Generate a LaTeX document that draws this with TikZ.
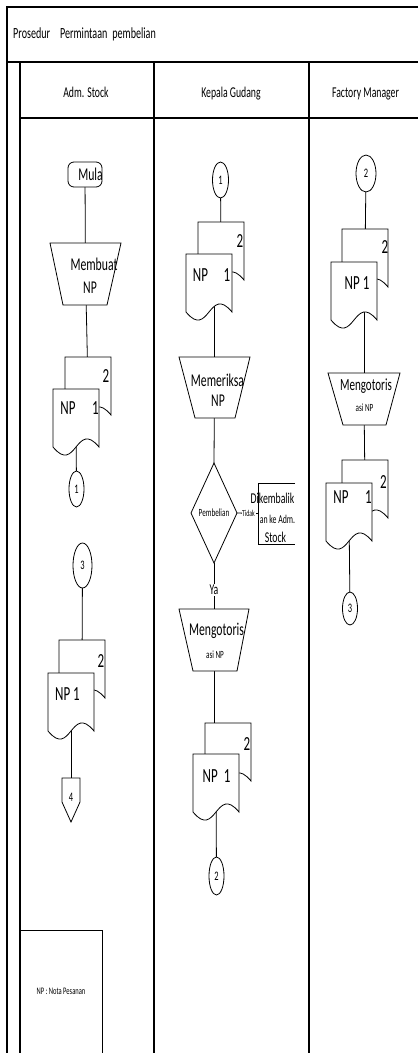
\documentclass[tikz,border=0pt]{standalone}
\usepackage{fontspec}
\setmainfont{Carlito}[FakeStretch=0.65]
\usetikzlibrary{shapes.geometric}
\pgfdeclarelayer{bg}
\pgfsetlayers{bg,main}
\newcommand\txtsize[1]{\fontsize{#1}{#1}\selectfont}
% document symbol with a wavy lower edge, drawn around an empty node
\newcommand\docshape[1]{%
  \filldraw[shapeline,fill=white] (#1.south west) -- (#1.north west) -- (#1.north east) -- (#1.south east)
    .. controls ([xshift=-23pt,yshift=28pt]#1.south east) and ([xshift=23pt,yshift=-28pt]#1.south west) .. (#1.south west) -- cycle;}
% manual operation symbol: node box is the top edge, bottom edge inset
\newcommand\trapshape[3]{%
  \filldraw[shapeline,fill=white] (#1.north west) -- (#1.north east) -- ([xshift=-#3pt]#1.south east) -- ([xshift=#2pt]#1.south west) -- cycle;}
\tikzset{
  frame/.style={line width=2.2pt},
  shapeline/.style={line width=0.8pt},
  conn/.style={line width=0.8pt},
  docbox/.style={minimum width=46pt,minimum height=58pt,inner sep=0pt,outer sep=0pt},
  box/.style={inner sep=0pt,outer sep=0pt},
  conbox/.style={ellipse,draw,shapeline,fill=white,inner sep=0pt,font=\txtsize{13}},
  txt/.style={inner sep=0pt},
  t20/.style={txt,font=\txtsize{20}},
  t18/.style={txt,font=\txtsize{18}},
  t15/.style={txt,font=\txtsize{15}},
  t12/.style={txt,font=\txtsize{12}},
  t11/.style={txt,font=\txtsize{11}},
}
\begin{document}
\begin{tikzpicture}[x=1pt,y=-1pt]
\useasboundingbox (0,0) rectangle (418,1053);

% table frame with swimlanes
\draw[frame] (418,7) -- (7,7) -- (7,1053);
\draw[frame] (7,62) -- (418,62);
\draw[frame] (20,62) -- (20,1053);
\draw[frame] (20,118) -- (418,118);
\draw[frame] (154,62) -- (154,1053);
\draw[frame] (309,62) -- (309,1053);

\node[txt,font=\txtsize{15.5},anchor=base west] (title) at (13,38)
  {Prosedur\hspace{10pt}Permintaan\hspace{5pt}pembelian};
\node[txt,font=\txtsize{15},anchor=base] (laneA) at (86,97) {Adm. Stock};
\node[txt,font=\txtsize{15},anchor=base] (laneB) at (231,97) {Kepala Gudang};
\node[txt,font=\txtsize{15},anchor=base] (laneC) at (365.5,97) {Factory Manager};

% ---------- Adm. Stock ----------
\node[draw,shapeline,fill=white,rounded corners=6pt,minimum width=34pt,minimum height=25pt,inner sep=0pt] (mula) at (85,174.5) {};
\node[t18] (mulat) at (90.5,174) {Mula};

\node[box,minimum width=71pt,minimum height=62pt] (mb) at (85.5,274) {};
\trapshape{mb}{13}{14}
\node[t18] (mbt1) at (94,264) {Membuat};
\node[t18] (mbt2) at (90,288) {NP};

\node[docbox] (b1) at (88,386) {};
\docshape{b1}
\node[t20] (b1t) at (106,376) {2};
\node[docbox] (f1) at (76,418) {};
\docshape{f1}
\node[t20] (f1t1) at (68,408.5) {NP};
\node[t20] (f1t2) at (95.5,408.5) {1};

\node[conbox,minimum width=15pt,minimum height=36pt] (c1) at (76.5,489) {1};

\node[conbox,minimum width=19pt,minimum height=45pt] (c3) at (82.5,565.5) {3};

\node[docbox] (b2) at (82,669) {};
\docshape{b2}
\node[t20] (b2t) at (101,661) {2};
\node[docbox] (f2) at (71,702) {};
\docshape{f2}
\node[t20] (f2t) at (67.5,694) {NP 1};

\node[box,minimum width=18pt,minimum height=44pt] (o4) at (71,800) {};
\filldraw[shapeline,fill=white] (o4.north west) -- (o4.north east) -- ([yshift=-24pt]o4.north east)
  -- (o4.south) -- ([yshift=-24pt]o4.north west) -- cycle;
\node[txt,font=\txtsize{13}] (o4t) at (71,797) {4};

\node[draw,shapeline,minimum width=82pt,minimum height=123pt,inner sep=0pt,font=\txtsize{10}] (legend) at (61,991.5) {NP : Nota Pesanan};

% ---------- Kepala Gudang ----------
\node[conbox,minimum width=16pt,minimum height=36pt] (c1b) at (220.5,180) {1};

\node[docbox] (b3) at (221,251) {};
\docshape{b3}
\node[t20] (b3t) at (240,241) {2};
\node[docbox] (f3) at (209,283) {};
\docshape{f3}
\node[t20] (f3t1) at (200.5,275) {NP};
\node[t20] (f3t2) at (227,275) {1};

\node[box,minimum width=71pt,minimum height=61pt] (tr2) at (214.5,387.5) {};
\trapshape{tr2}{16}{15}
\node[t18] (tr2t1) at (217.5,380) {Memeriksa};
\node[t18] (tr2t2) at (218,401) {NP};

\node[box,minimum width=46pt,minimum height=100pt,font=\txtsize{11}] (dec) at (214,513) {Pembelian};
\begin{pgfonlayer}{bg}
\filldraw[shapeline,fill=white] (dec.north) -- (dec.east) -- (dec.south) -- (dec.west) -- cycle;
\end{pgfonlayer}

\node[box,minimum width=37pt,minimum height=61pt] (kembali) at (276.5,513.5) {};
\draw[shapeline] (kembali.north east) -- (kembali.north west) -- (kembali.south west) -- (kembali.south east);
\node[t15] (kb1) at (272.5,498) {Dikembalik};
\node[t12] (kb2) at (277.5,519) {an ke Adm.};
\node[t15] (kb3) at (275.5,537) {Stock};

\node[box,minimum width=70pt,minimum height=62pt] (tr3) at (214,640) {};
\trapshape{tr3}{14}{12}
\node[t18] (tr3t1) at (216.5,631) {Mengotoris};
\node[t11] (tr3t2) at (215,655) {asi NP};

\node[docbox] (b4) at (228,752) {};
\docshape{b4}
\node[t20] (b4t) at (247,744) {2};
\node[docbox] (f4) at (216,783) {};
\docshape{f4}
\node[t20] (f4t) at (216.5,776) {NP\hspace{6pt}1};

\node[conbox,minimum width=15pt,minimum height=38pt] (c2) at (216.5,876) {2};

% ---------- Factory Manager ----------
\node[conbox,minimum width=20pt,minimum height=37pt] (c2b) at (366,173.5) {2};

\node[docbox] (b5) at (365,258) {};
\docshape{b5}
\node[t20] (b5t) at (385,247) {2};
\node[docbox] (f5) at (354,291) {};
\docshape{f5}
\node[t20] (f5t) at (357,283.5) {NP\hspace{3pt}1};

\node[box,minimum width=72pt,minimum height=52pt] (tr4) at (364,399) {};
\trapshape{tr4}{15}{14}
\node[txt,font=\txtsize{17}] (tr4t1) at (366,386) {Mengotoris};
\node[t11] (tr4t2) at (364.5,407.5) {asi NP};

\node[docbox] (b6) at (365,489) {};
\docshape{b6}
\node[t20] (b6t) at (383.5,482) {2};
\node[docbox] (f6) at (349,512) {};
\docshape{f6}
\node[t20] (f6t1) at (341,497.5) {NP};
\node[t20] (f6t2) at (368.5,497.5) {1};

\node[conbox,minimum width=15pt,minimum height=33pt] (c3b) at (350,608.5) {3};

% ---------- flow lines (behind the symbols) ----------
\begin{pgfonlayer}{bg}
\draw[conn] (mula.center) -- (mb.center);
\draw[conn] (mb.center) -- (b1.center);
\draw[conn] (f1.center) -- (c1.center);
\draw[conn] (c3.center) -- (b2.center);
\draw[conn] (f2.center) -- (o4.center);

\draw[conn] (c1b.center) -- (b3.center);
\draw[conn] (f3.center -| tr2.center) -- (tr2.center);
\draw[conn] (tr2.center) -- (dec.north);
\draw[conn] (dec.east) -- node[pos=0.55,fill=white,inner sep=0.6pt,font=\txtsize{9}] (tidak) {Tidak} (kembali.west);
\draw[conn] (dec.south) -- node[pos=0.59,fill=white,inner sep=1pt,font=\txtsize{15}] (ya) {Ya} (tr3.north);
\draw[conn] (tr3.center) -- (tr3.center |- b4.center);
\draw[conn] (f4.center) -- (c2.center);

\draw[conn] (c2b.center) -- (b5.center);
\draw[conn] (f5.center -| tr4.center) -- (tr4.center);
\draw[conn] (tr4.center) -- (b6.center);
\draw[conn] (f6.center) -- (c3b.center);
\end{pgfonlayer}
\end{tikzpicture}
\end{document}
